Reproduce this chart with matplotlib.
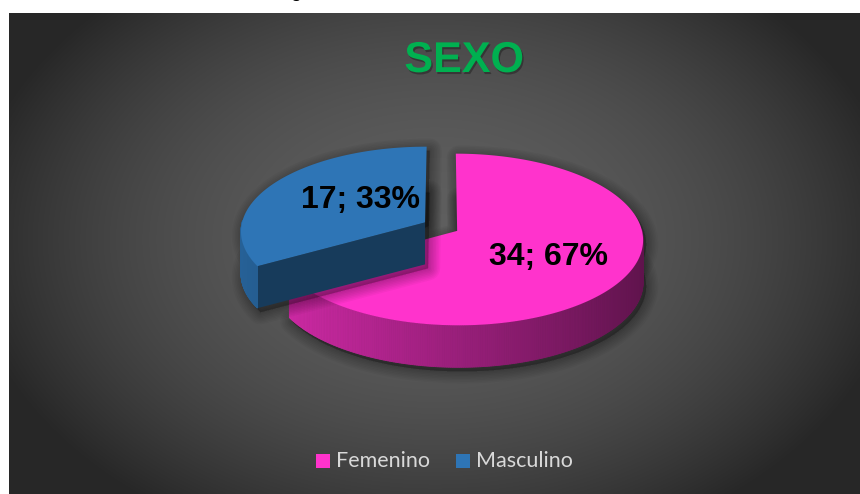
import numpy as np
import matplotlib
matplotlib.use("Agg")
import matplotlib.pyplot as plt
from matplotlib.patches import Polygon, Rectangle
import matplotlib.patheffects as pe
from matplotlib.colors import to_rgb

# ---- data ----
categories = ["Femenino", "Masculino"]
values = [34, 17]
colors = ["#FF33CC", "#2E75B6"]
title = "SEXO"

W, H = 860, 494
fig = plt.figure(figsize=(W / 100, H / 100), dpi=100)
ax = fig.add_axes([0, 0, 1, 1])
ax.set_xlim(0, W)
ax.set_ylim(H, 0)
ax.axis("off")
fig.patch.set_facecolor("white")

# ---- background (radial gradient) ----
x0, y0 = 9, 14
xs = np.linspace(x0, W, 430)
ys = np.linspace(y0, H, 240)
X, Y = np.meshgrid(xs, ys)
cxg, cyg = 435, 240
d = np.sqrt(((X - cxg) / 470) ** 2 + ((Y - cyg) / 330) ** 2)
v = 0.155 + 0.215 * np.clip(1 - d ** 2, 0, 1)
img = np.dstack([v, v, v])
ax.imshow(img, extent=(x0, W, H, y0), aspect="auto", zorder=0, interpolation="bilinear")

# cut glyph at top edge
ax.text(296, -3, "g", fontsize=14, color="black", ha="center", va="baseline",
        family="Liberation Sans", zorder=1, clip_on=False)

# ---- pie geometry (perspective projection of a tilted disc) ----
cx, cy = 442.5, 227.0
rx, ry = 184, 84.2
persp = 0.1
depth = 42
explode = [0.0915, 0.11]
label_r = [0.55, 0.42]
label_dy = [2, -5]

total = sum(values)
angles = np.cumsum([0] + [v_ / total * 360 for v_ in values])


def proj(Xp, Zp, dz=0.0):
    w = 1 + persp * Zp
    return (cx + rx * Xp / w, cy - ry * Zp / w + dz)


def shade(col, f):
    r, g, b = to_rgb(col)
    return (r * f, g * f, b * f)


def draw_slice(i):
    a0, a1 = angles[i], angles[i + 1]
    mid = np.radians((a0 + a1) / 2)
    ox, oz = explode[i] * np.sin(mid), explode[i] * np.cos(mid)
    col = colors[i]

    def P(th, r=1.0, dz=0.0):
        t = np.radians(th)
        return proj(ox + r * np.sin(t), oz + r * np.cos(t), dz)

    c = P(0, 0)
    cb = P(0, 0, depth)
    th = np.linspace(a0, a1, 240)
    top = [P(t) for t in th]
    bot = [P(t, 1.0, depth) for t in th]
    # soft shadow
    sh_off = (3, 4)
    for k in range(8):
        lw = 2 + k * 2.2
        for poly in ([c] + top, [cb] + bot):
            ax.add_patch(Polygon([(p[0] + sh_off[0], p[1] + sh_off[1]) for p in poly],
                                 closed=True, facecolor="black", edgecolor="black",
                                 lw=lw, alpha=0.035, joinstyle="round", zorder=2 + i * 10))
    # radial faces facing the viewer
    for a, sign in ((a0, -1), (a1, 1)):
        nrm = a + sign * 90
        if np.cos(np.radians(nrm)) < -0.05:
            ax.add_patch(Polygon([c, P(a), P(a, 1.0, depth), cb], closed=True,
                                 facecolor=shade(col, 0.5), edgecolor="none",
                                 zorder=3 + i * 10))
    # outer wall (front half)
    tw = np.linspace(a0, a1, 400)
    for j in range(len(tw) - 1):
        tm = (tw[j] + tw[j + 1]) / 2
        if np.cos(np.radians(tm)) < 0.02:
            f = 0.6 - 0.23 * np.sin(np.radians(tm))
            p1, p2 = P(tw[j]), P(tw[j + 1])
            q1, q2 = P(tw[j], 1.0, depth), P(tw[j + 1], 1.0, depth)
            ax.add_patch(Polygon([p1, p2, q2, q1], closed=True, facecolor=shade(col, f),
                                 edgecolor=shade(col, f), lw=0.6, zorder=4 + i * 10))
    # top face
    ax.add_patch(Polygon([c] + top, closed=True, facecolor=col, edgecolor="none",
                         zorder=5 + i * 10))
    # data label
    lx, ly = P(np.degrees(mid), label_r[i])
    pct = values[i] / total * 100
    ax.text(lx, ly + label_dy[i], f"{values[i]}; {pct:.0f}%", ha="center", va="center",
            fontsize=23, fontweight="bold", color="black", family="Liberation Sans",
            zorder=30)


# back slice (Masculino) first, then front slice (Femenino)
draw_slice(1)
draw_slice(0)

# ---- title ----
ax.text(464, 61, title, ha="center", va="center", fontsize=31, fontweight="bold",
        color="#00B050", family="Liberation Sans", zorder=30,
        path_effects=[pe.withSimplePatchShadow(offset=(1, -1.5), shadow_rgbFace="black", alpha=0.3)])

# ---- legend ----
leg_y = 461
items = [(316, 336), (456, 476)]
for i, (sx, tx) in enumerate(items):
    ax.add_patch(Rectangle((sx, leg_y - 7), 14, 14, facecolor=colors[i], edgecolor="none", zorder=30))
    ax.text(tx, leg_y, categories[i], ha="left", va="center", fontsize=15.5,
            color="#D9D9D9", family="Lato", zorder=30)

fig.savefig("out.png", dpi=100)
